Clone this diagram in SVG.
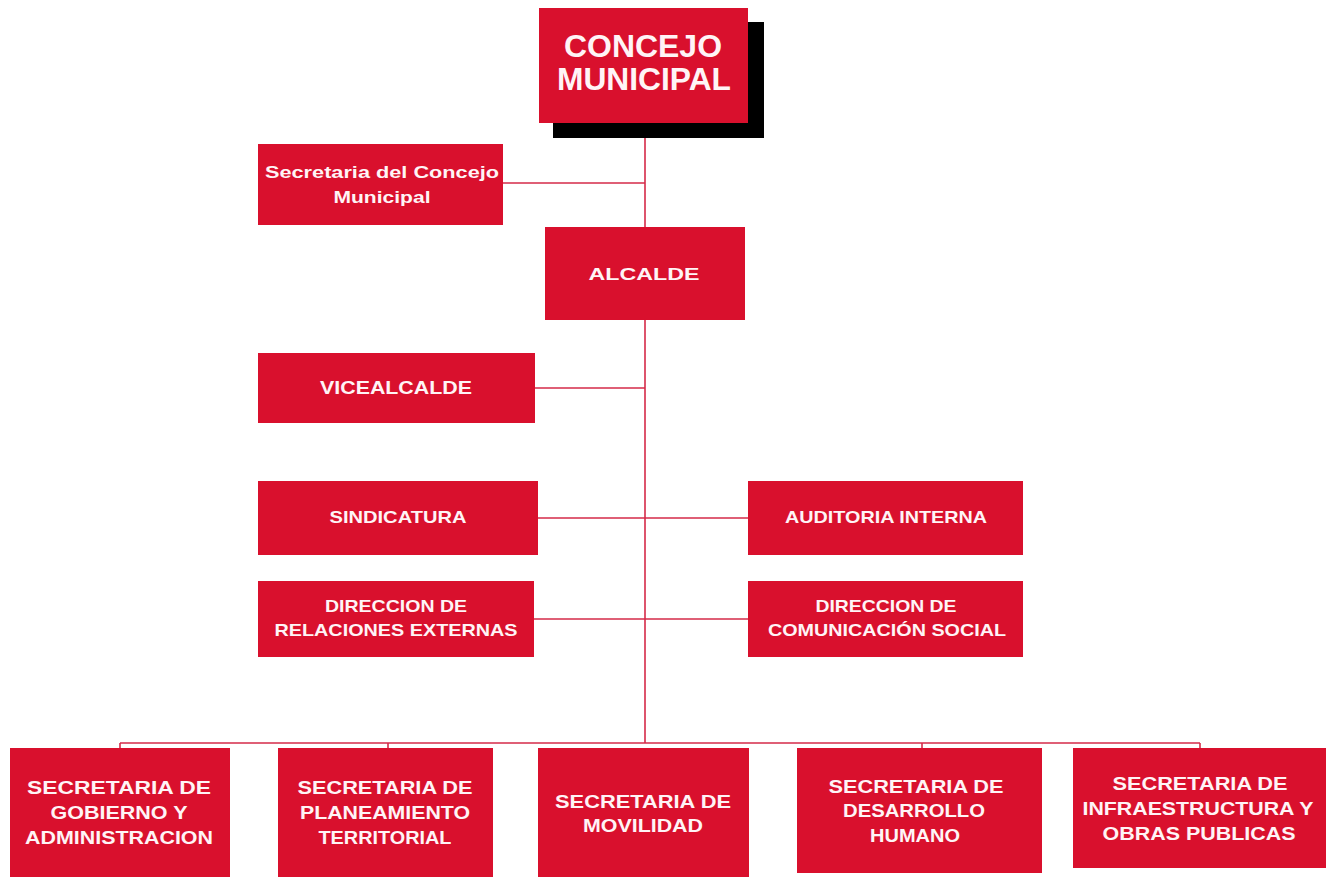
<svg xmlns="http://www.w3.org/2000/svg" width="1335" height="877" viewBox="0 0 1335 877">
<style>
.box{fill:#d9102d;}
.ln{stroke:#d52a48;stroke-width:1.6;fill:none;}
.t{fill:#fff4f6;font-family:"Liberation Sans",Arial,sans-serif;font-weight:bold;text-anchor:middle;}
.s17{font-size:17px;}
.s19{font-size:19px;}
.big{font-size:31px;}
</style>
<rect width="1335" height="877" fill="#ffffff"/>
<g id="connectors">
<line class="ln" x1="645" y1="123" x2="645" y2="227"/>
<line class="ln" x1="645" y1="320" x2="645" y2="743"/>
<line class="ln" x1="503" y1="183" x2="645" y2="183"/>
<line class="ln" x1="535" y1="388" x2="645" y2="388"/>
<line class="ln" x1="538" y1="518" x2="748" y2="518"/>
<line class="ln" x1="534" y1="619" x2="748" y2="619"/>
<line class="ln" x1="120" y1="743" x2="1200" y2="743"/>
<line class="ln" x1="120" y1="743" x2="120" y2="748"/>
<line class="ln" x1="388" y1="743" x2="388" y2="748"/>
<line class="ln" x1="922" y1="743" x2="922" y2="748"/>
<line class="ln" x1="1200" y1="743" x2="1200" y2="748"/>
</g>
<g id="concejo">
<rect x="553" y="22" width="211" height="116" fill="#000"/>
<rect class="box" x="539" y="8" width="209" height="115"/>
<text class="t big" x="643" y="57" textLength="158" lengthAdjust="spacingAndGlyphs">CONCEJO</text>
<text class="t big" x="644" y="90" textLength="174" lengthAdjust="spacingAndGlyphs">MUNICIPAL</text>
</g>
<g id="secretaria-concejo">
<rect class="box" x="258" y="144" width="245" height="81"/>
<text class="t s17" x="382" y="178" textLength="234" lengthAdjust="spacingAndGlyphs">Secretaria del Concejo</text>
<text class="t s17" x="382" y="203" textLength="97" lengthAdjust="spacingAndGlyphs">Municipal</text>
</g>
<g id="alcalde">
<rect class="box" x="545" y="227" width="200" height="93"/>
<text class="t s17" x="644" y="280" textLength="111" lengthAdjust="spacingAndGlyphs">ALCALDE</text>
</g>
<g id="vicealcalde">
<rect class="box" x="258" y="353" width="277" height="70"/>
<text class="t s19" x="396" y="394" textLength="152" lengthAdjust="spacingAndGlyphs">VICEALCALDE</text>
</g>
<g id="sindicatura">
<rect class="box" x="258" y="481" width="280" height="74"/>
<text class="t s17" x="398" y="523" textLength="137" lengthAdjust="spacingAndGlyphs">SINDICATURA</text>
</g>
<g id="auditoria">
<rect class="box" x="748" y="481" width="275" height="74"/>
<text class="t s17" x="886" y="523" textLength="202" lengthAdjust="spacingAndGlyphs">AUDITORIA INTERNA</text>
</g>
<g id="relaciones-externas">
<rect class="box" x="258" y="581" width="276" height="76"/>
<text class="t s17" x="396" y="612" textLength="142" lengthAdjust="spacingAndGlyphs">DIRECCION DE</text>
<text class="t s17" x="396" y="636" textLength="243" lengthAdjust="spacingAndGlyphs">RELACIONES EXTERNAS</text>
</g>
<g id="comunicacion-social">
<rect class="box" x="748" y="581" width="275" height="76"/>
<text class="t s17" x="886" y="612" textLength="141" lengthAdjust="spacingAndGlyphs">DIRECCION DE</text>
<text class="t s17" x="887" y="636" textLength="238" lengthAdjust="spacingAndGlyphs">COMUNICACIÓN SOCIAL</text>
</g>
<g id="sec-gobierno">
<rect class="box" x="10" y="748" width="220" height="129"/>
<text class="t s19" x="119" y="794" textLength="184" lengthAdjust="spacingAndGlyphs">SECRETARIA DE</text>
<text class="t s19" x="119" y="819" textLength="137" lengthAdjust="spacingAndGlyphs">GOBIERNO Y</text>
<text class="t s19" x="119" y="844" textLength="188" lengthAdjust="spacingAndGlyphs">ADMINISTRACION</text>
</g>
<g id="sec-planeamiento">
<rect class="box" x="278" y="748" width="215" height="129"/>
<text class="t s19" x="385" y="794" textLength="175" lengthAdjust="spacingAndGlyphs">SECRETARIA DE</text>
<text class="t s19" x="385" y="819" textLength="170" lengthAdjust="spacingAndGlyphs">PLANEAMIENTO</text>
<text class="t s19" x="385" y="844" textLength="133" lengthAdjust="spacingAndGlyphs">TERRITORIAL</text>
</g>
<g id="sec-movilidad">
<rect class="box" x="538" y="748" width="211" height="129"/>
<text class="t s19" x="643" y="808" textLength="176" lengthAdjust="spacingAndGlyphs">SECRETARIA DE</text>
<text class="t s19" x="643" y="832" textLength="120" lengthAdjust="spacingAndGlyphs">MOVILIDAD</text>
</g>
<g id="sec-desarrollo">
<rect class="box" x="797" y="748" width="245" height="125"/>
<text class="t s19" x="916" y="793" textLength="175" lengthAdjust="spacingAndGlyphs">SECRETARIA DE</text>
<text class="t s19" x="914" y="817" textLength="142" lengthAdjust="spacingAndGlyphs">DESARROLLO</text>
<text class="t s19" x="915" y="842" textLength="90" lengthAdjust="spacingAndGlyphs">HUMANO</text>
</g>
<g id="sec-infraestructura">
<rect class="box" x="1073" y="748" width="253" height="120"/>
<text class="t s19" x="1200" y="790" textLength="175" lengthAdjust="spacingAndGlyphs">SECRETARIA DE</text>
<text class="t s19" x="1198" y="815" textLength="231" lengthAdjust="spacingAndGlyphs">INFRAESTRUCTURA Y</text>
<text class="t s19" x="1199" y="840" textLength="193" lengthAdjust="spacingAndGlyphs">OBRAS PUBLICAS</text>
</g>
</svg>
